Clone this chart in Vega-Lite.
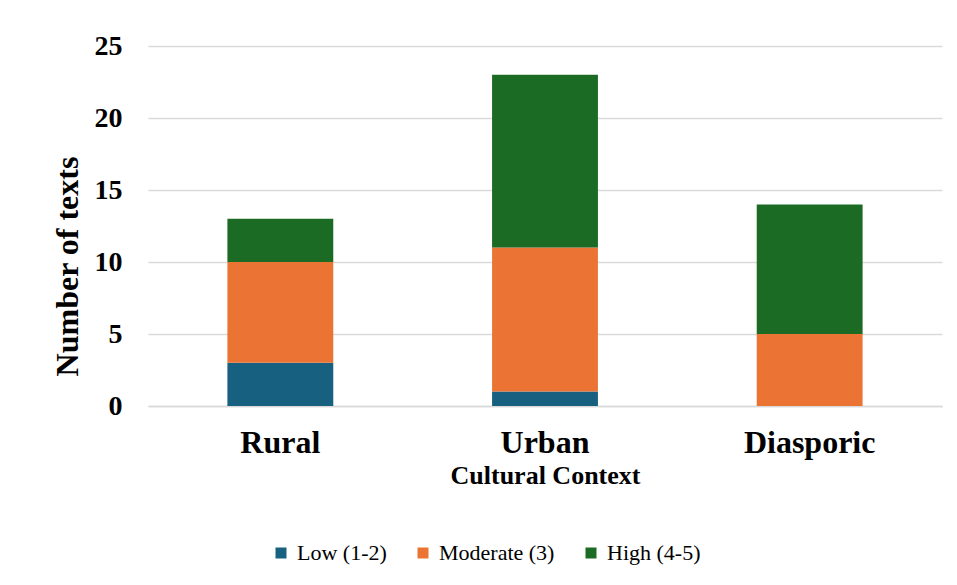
{
  "$schema": "https://vega.github.io/schema/vega-lite/v6.json",
  "width": 794,
  "height": 360,
  "autosize": {"type": "none"},
  "padding": {"left": 148, "top": 46, "right": 15, "bottom": 179},
  "background": "white",
  "config": {
    "view": {"stroke": null},
    "font": "Liberation Serif",
    "legend": {"labelFont": "Liberation Serif"},
    "axis": {"labelFont": "Liberation Serif", "titleFont": "Liberation Serif"}
  },
  "data": {
    "values": [
      {"context": "Rural", "level": "Low (1-2)", "minScore": 1, "count": 3},
      {"context": "Rural", "level": "Moderate (3)", "minScore": 3, "count": 7},
      {"context": "Rural", "level": "High (4-5)", "minScore": 4, "count": 3},
      {"context": "Urban", "level": "Low (1-2)", "minScore": 1, "count": 1},
      {"context": "Urban", "level": "Moderate (3)", "minScore": 3, "count": 10},
      {"context": "Urban", "level": "High (4-5)", "minScore": 4, "count": 12},
      {"context": "Diasporic", "level": "Low (1-2)", "minScore": 1, "count": 0},
      {"context": "Diasporic", "level": "Moderate (3)", "minScore": 3, "count": 5},
      {"context": "Diasporic", "level": "High (4-5)", "minScore": 4, "count": 9}
    ]
  },
  "mark": {"type": "bar"},
  "encoding": {
    "x": {
      "field": "context",
      "type": "nominal",
      "sort": ["Rural", "Urban", "Diasporic"],
      "scale": {"paddingInner": 0.6, "paddingOuter": 0.3},
      "axis": {
        "title": "Cultural Context",
        "labelAngle": 0,
        "labelFont": "Liberation Serif",
        "labelFontSize": 32,
        "labelFontWeight": "bold",
        "labelColor": "#000000",
        "labelPadding": 21,
        "ticks": false,
        "domainColor": "#d9d9d9",
        "domainWidth": 1.5,
        "titleFont": "Liberation Serif",
        "titleFontSize": 26,
        "titleFontWeight": "bold",
        "titleColor": "#000000",
        "titlePadding": 4
      }
    },
    "y": {
      "field": "count",
      "type": "quantitative",
      "stack": "zero",
      "scale": {"domain": [0, 25], "nice": false},
      "axis": {
        "title": "Number of texts",
        "values": [0, 5, 10, 15, 20, 25],
        "labelFont": "Liberation Serif",
        "labelFontSize": 28,
        "labelFontWeight": "bold",
        "labelColor": "#000000",
        "labelPadding": 26,
        "ticks": false,
        "domain": false,
        "gridColor": "#d9d9d9",
        "gridWidth": 1.5,
        "titleFont": "Liberation Serif",
        "titleFontSize": 32,
        "titleFontWeight": "bold",
        "titleColor": "#000000",
        "titlePadding": 10,
        "titleY": 220
      }
    },
    "order": {"field": "minScore", "type": "quantitative", "sort": "ascending"},
    "color": {
      "field": "level",
      "type": "nominal",
      "scale": {
        "domain": ["Low (1-2)", "Moderate (3)", "High (4-5)"],
        "range": ["#18607F", "#EB7434", "#1B6B24"]
      },
      "legend": {
        "title": null,
        "orient": "none",
        "direction": "horizontal",
        "legendX": 122,
        "legendY": 496,
        "padding": 0,
        "symbolType": "square",
        "symbolSize": 121,
        "symbolStrokeWidth": 0,
        "labelFont": "Liberation Serif",
        "labelFontSize": 22,
        "labelColor": "#000000",
        "labelOffset": 5,
        "columnPadding": 25
      }
    }
  }
}
